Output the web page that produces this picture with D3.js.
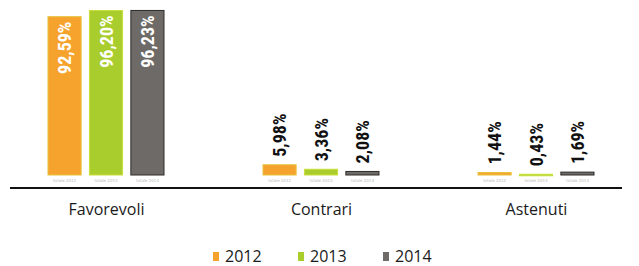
<!DOCTYPE html>
<html>
<head>
<meta charset="utf-8">
<script src="https://cdn.jsdelivr.net/npm/d3@7"></script>
<style>
  body { margin: 0; background: #fff; }
  svg { display: block; }
</style>
</head>
<body>
<svg id="chart" width="639" height="266"></svg>
<script>
const categories = ['Favorevoli', 'Contrari', 'Astenuti'];
const years = ['2012', '2013', '2014'];
const values2012 = [92.59, 5.98, 1.44];
const values2013 = [96.20, 3.36, 0.43];
const values2014 = [96.23, 2.08, 1.69];
const labels2012 = ['92,59%', '5,98%', '1,44%'];
const labels2013 = ['96,20%', '3,36%', '0,43%'];
const labels2014 = ['96,23%', '2,08%', '1,69%'];

const colors = { '2012': '#f6a32e', '2013': '#a8cd2c', '2014': '#6e6a67' };
const strokes = { '2012': '#e9c23c', '2013': '#cadf3c', '2014': '#2e2c2a' };

const seriesValues = [values2012, values2013, values2014];
const seriesLabels = [labels2012, labels2013, labels2014];

const svg = d3.select('#chart');

const baseY = 175;
const axisY = 188;

const x0 = d3.scalePoint().domain(categories).range([106, 536]);
const x1 = d3.scaleBand().domain(years).range([-58, 58]).paddingInner(0.2);
const y = d3.scaleLinear().domain([0, 100]).range([baseY, 4]);

const condensed = '"Liberation Sans Narrow", "Arial Narrow", "Roboto Condensed", "DejaVu Sans Condensed", sans-serif';
const plain = '"Open Sans", "Noto Sans", sans-serif';

// one record per bar
const bars = [];
categories.forEach((c, ci) => {
    years.forEach((yr, yi) => {
        bars.push({ cat: c, year: yr, value: seriesValues[yi][ci], label: seriesLabels[yi][ci] });
    });
});

const g = svg.append('g');

g.selectAll('rect.bar')
    .data(bars)
    .enter()
    .append('rect')
    .attr('class', 'bar')
    .attr('x', d => x0(d.cat) + x1(d.year))
    .attr('y', d => y(d.value))
    .attr('width', x1.bandwidth())
    .attr('height', d => Math.max(1.5, baseY - y(d.value)))
    .attr('fill', d => colors[d.year])
    .attr('stroke', d => strokes[d.year])
    .attr('stroke-width', 1);

// tiny faint captions under each bar, as on the scan
g.selectAll('text.tiny')
    .data(bars)
    .enter()
    .append('text')
    .attr('class', 'tiny')
    .attr('x', d => x0(d.cat) + x1(d.year) + x1.bandwidth() / 2)
    .attr('y', baseY + 7)
    .attr('text-anchor', 'middle')
    .attr('font-family', 'DejaVu Sans, sans-serif')
    .attr('font-size', 4)
    .attr('fill', '#b8b8b8')
    .text(d => 'totale ' + d.year);

// value labels: white inside the tall bars, black above the short ones
g.selectAll('text.val')
    .data(bars)
    .enter()
    .append('text')
    .attr('class', 'val')
    .attr('transform', d => {
        const cx = x0(d.cat) + x1(d.year) + x1.bandwidth() / 2;
        const inside = d.value > 50;
        const ty = inside ? y(d.value) + 5 : y(d.value) - 8;
        return `translate(${cx + 6.5},${ty}) rotate(-90)`;
    })
    .attr('text-anchor', d => d.value > 50 ? 'end' : 'start')
    .attr('font-family', condensed)
    .attr('font-weight', 'bold')
    .attr('font-size', 18)
    .attr('fill', d => d.value > 50 ? '#fff' : '#111')
    .text(d => d.label);

// baseline
svg.append('line')
    .attr('x1', 10)
    .attr('x2', 622)
    .attr('y1', axisY)
    .attr('y2', axisY)
    .attr('stroke', '#111')
    .attr('stroke-width', 2);

// category labels
const xAxis = d3.axisBottom(x0).tickSize(0).tickPadding(16);
const axisG = svg.append('g')
    .attr('transform', `translate(0,${axisY})`)
    .call(xAxis);
axisG.select('.domain').remove();
axisG.selectAll('text')
    .attr('font-family', plain)
    .attr('font-size', 16)
    .attr('fill', '#1a1a1a');

// legend
const legendX = d3.scalePoint().domain(years).range([213, 383]);
const legend = svg.append('g').selectAll('g')
    .data(years)
    .enter()
    .append('g')
    .attr('transform', d => `translate(${legendX(d)},262)`);

legend.append('rect')
    .attr('x', 0)
    .attr('y', -10)
    .attr('width', 6)
    .attr('height', 9)
    .attr('fill', d => colors[d]);

legend.append('text')
    .attr('x', 12)
    .attr('y', 0)
    .attr('font-family', plain)
    .attr('font-size', 16)
    .attr('fill', '#1a1a1a')
    .text(d => d);
</script>
</body>
</html>
